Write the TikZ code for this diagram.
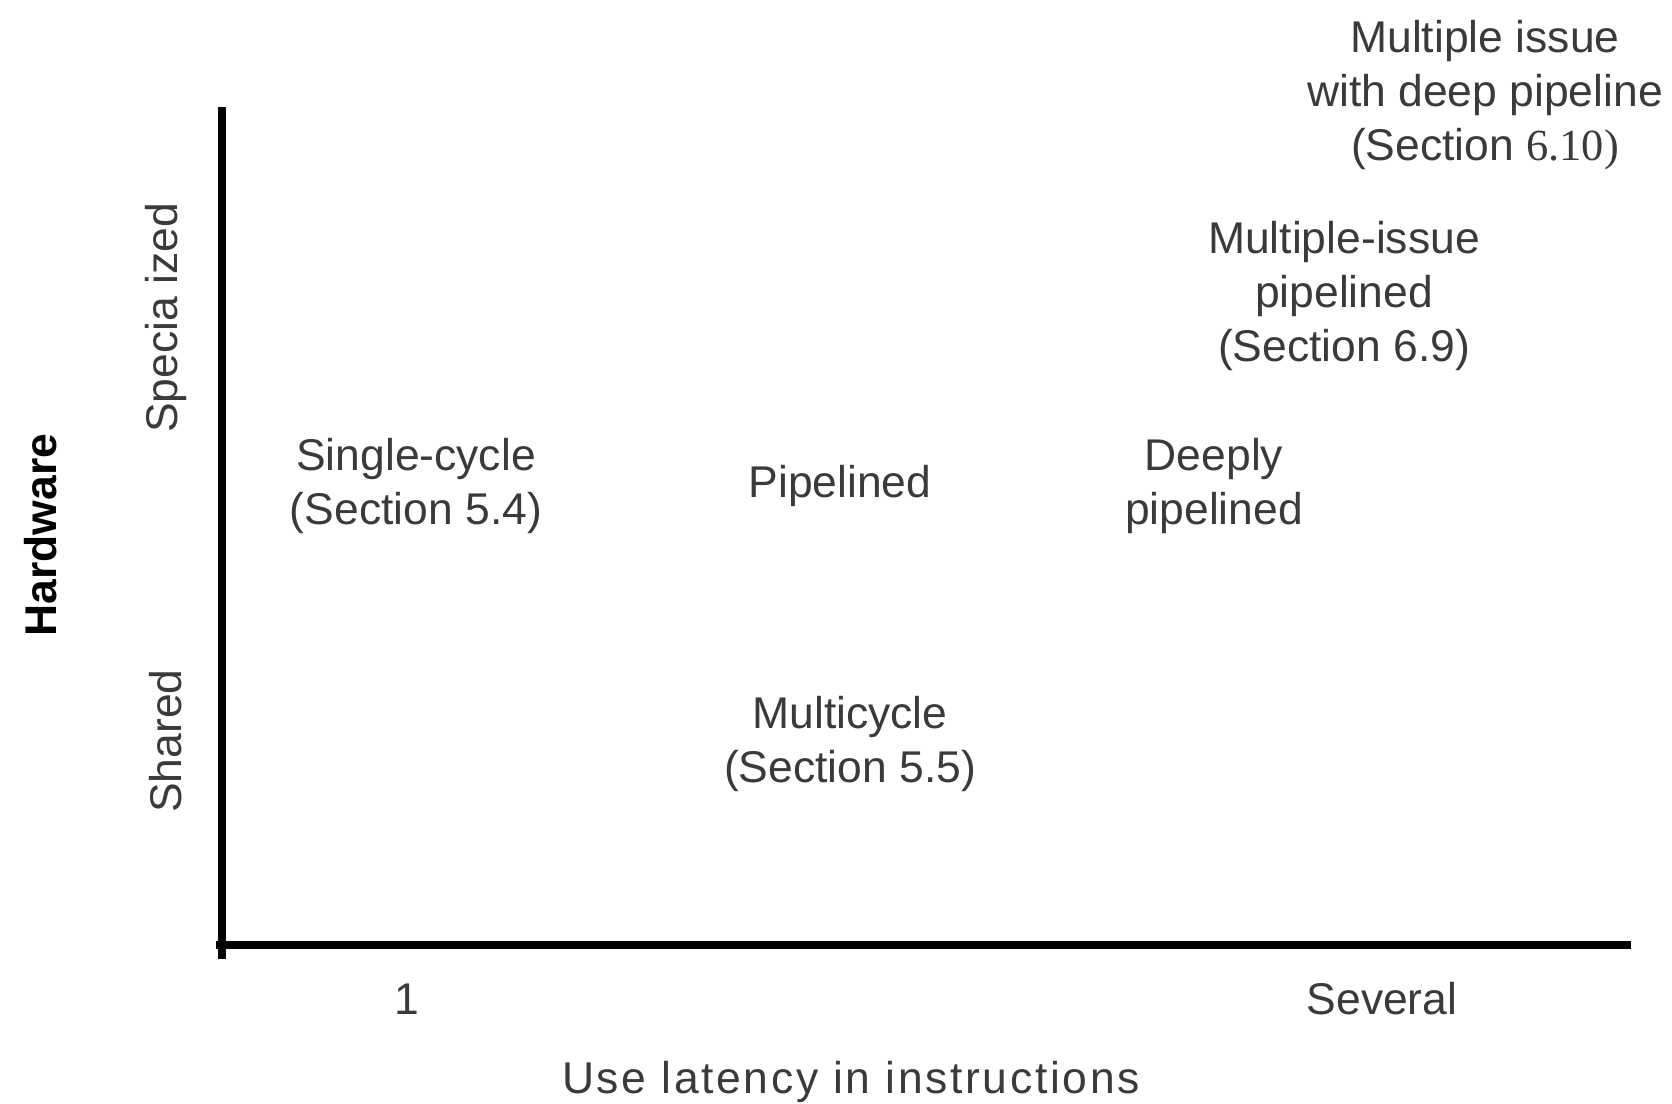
\documentclass[tikz,border=0pt]{standalone}
\usepackage{fontspec}
\setmainfont{Liberation Sans}
\newfontfamily\numfont{Liberation Serif}
\definecolor{txtgray}{RGB}{58,58,58}

\begin{document}
\begin{tikzpicture}[
    x=0.02cm, y=-0.02cm,
    lbl/.style={font=\fontsize{25.3}{30.6}\selectfont, text=txtgray, align=center, inner sep=0pt},
    side/.style={lbl, rotate=90},
    axis/.style={line width=4.5pt, black}
]
\useasboundingbox (0,0) rectangle (1672,1104);

% Axes
\coordinate (o) at (222,945);
\coordinate (ytop) at (222,107);
\coordinate (ybot) at (222,959);
\coordinate (xbeg) at (216,945);
\coordinate (xend) at (1631,945);
\draw[axis] (ytop) -- (ybot);
\draw[axis] (xbeg) -- (xend);

% Designs
\node[lbl] (deep) at (1485,95) {Multiple issue\\with deep pipeline\\(Section {\numfont 6.10)}};
\node[lbl] (multi) at (1344,296) {Multiple-issue\\pipelined\\(Section 6.9)};
\node[lbl] (deeply) at (1214,486) {Deeply\\pipelined};
\node[lbl] (pipe) at (840,486) {Pipelined};
\node[lbl] (single) at (416,486) {Single-cycle\\(Section 5.4)};
\node[lbl] (mcycle) at (850,744) {Multicycle\\(Section 5.5)};

% Axis labels
\node[lbl] (one) at (407,999) {1};
\node[lbl] (several) at (1382,999) {Several};
\node[lbl, font=\fontsize{25.3}{30}\selectfont\addfontfeatures{LetterSpace=6}] (xlab) at (851,1082) {Use latency in instructions};
\node[side] (spec) at (166,318) {Specia ized};
\node[side] (shared) at (166,741) {Shared};
\node[side, text=black, font=\fontsize{25.3}{30}\selectfont\bfseries] (hw) at (41,535) {Hardware};
\end{tikzpicture}
\end{document}
